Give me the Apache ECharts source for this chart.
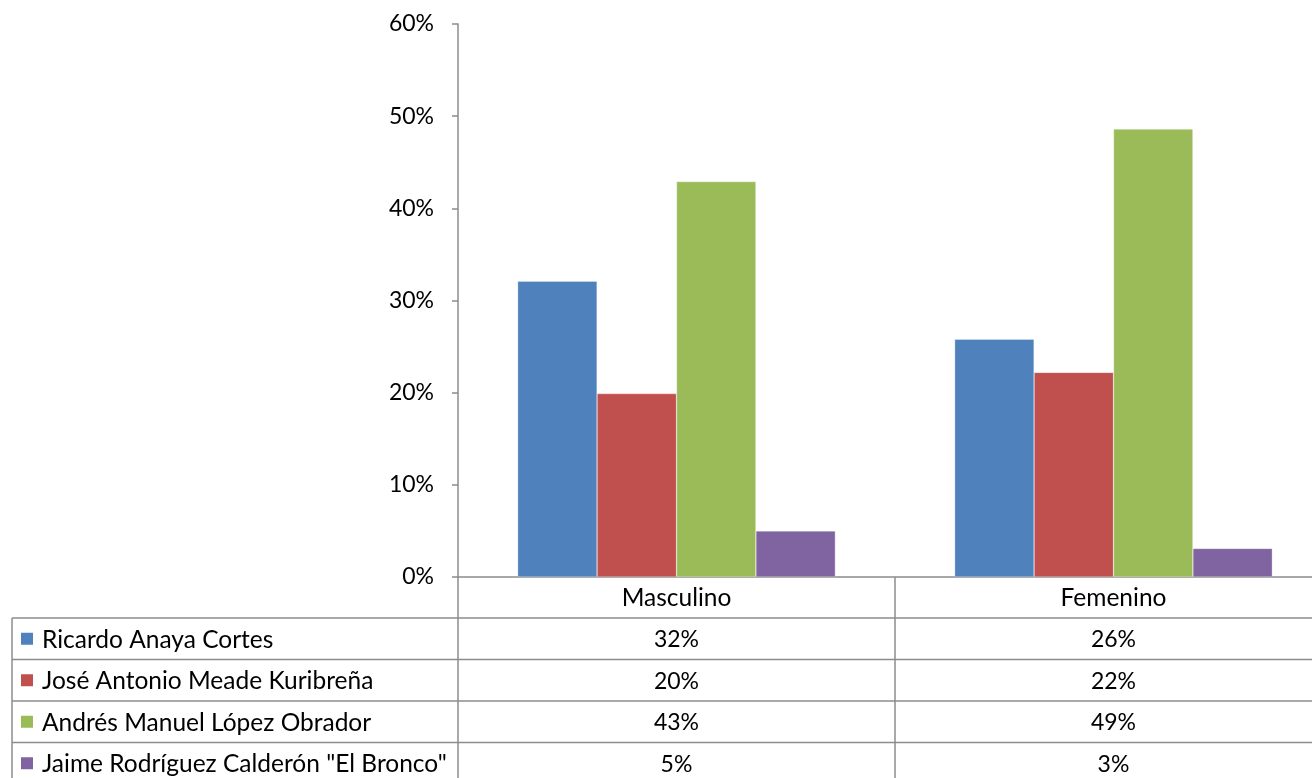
<!DOCTYPE html>
<html><head><meta charset="utf-8">
<script src="https://cdn.jsdelivr.net/npm/echarts@6/dist/echarts.min.js"></script>
<style>html,body{margin:0;padding:0;background:#fff}#c{width:1312px;height:778px}</style>
</head><body><div id="c"></div>
<script>
const categories = ['Masculino', 'Femenino'];
const seriesNames = ['Ricardo Anaya Cortes', 'José Antonio Meade Kuribreña', 'Andrés Manuel López Obrador', 'Jaime Rodríguez Calderón "El Bronco"'];
const anaya = [0.321, 0.258];
const meade = [0.199, 0.222];
const amlo = [0.429, 0.486];
const bronco = [0.050, 0.031];
const yTicks = [0, 0.1, 0.2, 0.3, 0.4, 0.5, 0.6];
const colors = ['#4F81BD', '#C0504D', '#9BBB59', '#8064A2'];
const allSeries = [anaya, meade, amlo, bronco];

const FONT = 'Lato';
const FS = 24.5;
const FSN = 23;
const gridLeft = 458, gridTop = 24, gridH = 553, bandW = 437;
const tableLeft = 12, headerBottom = 618, rowH = 41.5;
const lineColor = '#8C8C8C';

const chart = echarts.init(document.getElementById('c'), null, {renderer: 'canvas'});
const pct = v => Math.round(v * 100) + '%';

const graphics = [];
const L = (x1, y1, x2, y2) => graphics.push({type: 'line', silent: true, shape: {x1, y1, x2, y2}, style: {stroke: lineColor, lineWidth: 1.5}});
L(gridLeft, gridTop + gridH, gridLeft, 800);
for (let i = 1; i <= categories.length; i++) L(gridLeft + bandW * i, gridTop + gridH, gridLeft + bandW * i, 800);
L(tableLeft, headerBottom, tableLeft, 800);
for (let r = 0; r <= seriesNames.length; r++) {
  const y = headerBottom + r * rowH;
  L(tableLeft, y, 1312, y);
}
categories.forEach((c, i) => graphics.push({type: 'text', silent: true, style: {text: c, x: gridLeft + bandW * (i + 0.5), y: (gridTop + gridH + headerBottom) / 2 + 1, align: 'center', verticalAlign: 'middle', font: FS + 'px ' + FONT, fill: '#000'}}));
seriesNames.forEach((n, r) => {
  const yc = headerBottom + (r + 0.5) * rowH;
  graphics.push({type: 'rect', silent: true, shape: {x: 21, y: yc - 6, width: 12, height: 12}, style: {fill: colors[r]}});
  graphics.push({type: 'text', silent: true, style: {text: n, x: 42, y: yc + 1, align: 'left', verticalAlign: 'middle', font: FS + 'px ' + FONT, fill: '#000'}});
  allSeries[r].forEach((v, i) => graphics.push({type: 'text', silent: true, style: {text: pct(v), x: gridLeft + bandW * (i + 0.5), y: yc + 1, align: 'center', verticalAlign: 'middle', font: FSN + 'px ' + FONT, fill: '#000'}}));
});

chart.setOption({
  animation: false,
  backgroundColor: '#fff',
  grid: {left: gridLeft, top: gridTop, width: bandW * categories.length, height: gridH, containLabel: false, outerBoundsMode: 'none'},
  xAxis: {
    type: 'category', data: categories,
    axisLine: {lineStyle: {color: lineColor, width: 1.5}},
    axisTick: {show: false},
    axisLabel: {show: false}
  },
  yAxis: {
    type: 'value', min: 0, max: 0.6, interval: 0.1,
    axisLine: {show: true, lineStyle: {color: lineColor, width: 1.5}},
    axisTick: {show: true, length: 6, lineStyle: {color: lineColor, width: 1.5}},
    splitLine: {show: false},
    axisLabel: {formatter: v => yTicks.includes(Math.round(v * 10) / 10) ? pct(v) : '', fontFamily: FONT, fontSize: FSN, color: '#000', margin: 24}
  },
  series: allSeries.map((d, i) => ({
    name: seriesNames[i], type: 'bar', data: d,
    barGap: '0%', barCategoryGap: '27.3%',
    itemStyle: {color: colors[i], borderColor: 'rgba(255,255,255,0.6)', borderWidth: 0.5}
  })),
  graphic: graphics
});
</script></body></html>
